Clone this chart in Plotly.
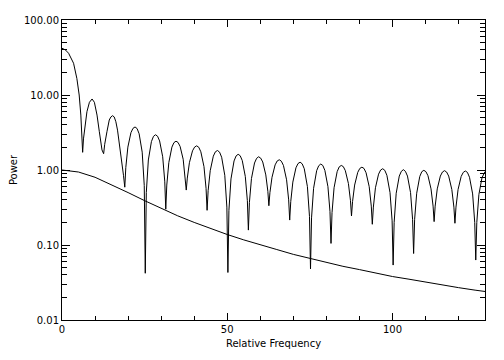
import plotly.graph_objects as go

# Upper curve: power spectrum
spec_x = [0, 1.0, 2.0, 3.5, 4.5, 5.2, 5.7, 6.0, 6.25,
          6.5, 6.85, 7.55, 8.3, 9.1, 9.8, 10.6, 11.3, 11.8, 12.1, 12.6,
          12.92, 13.6, 14.3, 14.8, 15.3, 15.8, 16.3, 16.8, 17.3, 17.7, 18.1, 18.6, 19.0,
          19.31, 19.93, 20.86, 21.48, 22.1, 22.72, 23.34, 24.27, 24.89, 25.2,
          25.51, 26.13, 27.06, 27.68, 28.3, 28.92, 29.54, 30.47, 31.09, 31.4,
          31.71, 32.33, 33.26, 33.88, 34.5, 35.12, 35.74, 36.67, 37.29, 37.6,
          37.92, 38.55, 39.49, 40.12, 40.75, 41.38, 42.01, 42.96, 43.59, 43.9,
          44.22, 44.85, 45.79, 46.42, 47.05, 47.68, 48.31, 49.26, 49.89, 50.2,
          50.51, 51.13, 52.06, 52.68, 53.3, 53.92, 54.54, 55.47, 56.09, 56.4,
          56.71, 57.33, 58.26, 58.88, 59.5, 60.12, 60.74, 61.67, 62.29, 62.6,
          62.92, 63.55, 64.49, 65.12, 65.75, 66.38, 67.01, 67.96, 68.59, 68.9,
          69.22, 69.85, 70.79, 71.42, 72.05, 72.68, 73.31, 74.26, 74.89, 75.2,
          75.51, 76.13, 77.06, 77.68, 78.3, 78.92, 79.54, 80.47, 81.09, 81.4,
          81.71, 82.33, 83.26, 83.88, 84.5, 85.12, 85.74, 86.67, 87.29, 87.6,
          87.92, 88.55, 89.49, 90.12, 90.75, 91.38, 92.01, 92.96, 93.59, 93.9,
          94.22, 94.85, 95.79, 96.42, 97.05, 97.68, 98.31, 99.26, 99.89, 100.2,
          100.51, 101.13, 102.06, 102.68, 103.3, 103.92, 104.54, 105.47, 106.09, 106.4,
          106.71, 107.33, 108.26, 108.88, 109.5, 110.12, 110.74, 111.67, 112.29, 112.6,
          112.92, 113.55, 114.49, 115.12, 115.75, 116.38, 117.01, 117.96, 118.59, 118.9,
          119.22, 119.85, 120.79, 121.42, 122.05, 122.68, 123.31, 124.26, 124.89, 125.2,
          125.52, 126.15, 127.09, 127.72, 128.0]
spec_y = [42, 40, 36, 26.5, 16.6, 10, 5.4, 3.2, 1.72,
          2.6, 3.6, 6.0, 8.0, 8.85, 8.0, 5.4, 3.24, 2.2, 1.85, 1.65,
          2.2, 3.24, 4.64, 5.1, 5.3, 5.1, 4.4, 3.4, 2.39, 1.75, 1.29, 0.85, 0.59,
          1.08, 2.02, 3.15, 3.59, 3.75, 3.57, 3.04, 1.73, 0.62, 0.042,
          0.50, 1.36, 2.39, 2.81, 2.95, 2.82, 2.44, 1.5, 0.71, 0.30,
          0.63, 1.26, 2.02, 2.32, 2.42, 2.33, 2.06, 1.39, 0.83, 0.54,
          0.78, 1.25, 1.80, 2.02, 2.1, 2.01, 1.75, 1.11, 0.57, 0.29,
          0.53, 0.98, 1.53, 1.75, 1.82, 1.73, 1.48, 0.85, 0.32, 0.043,
          0.29, 0.76, 1.32, 1.54, 1.62, 1.55, 1.34, 0.82, 0.39, 0.158,
          0.37, 0.77, 1.24, 1.43, 1.5, 1.44, 1.28, 0.86, 0.52, 0.334,
          0.50, 0.80, 1.17, 1.32, 1.37, 1.31, 1.15, 0.74, 0.40, 0.215,
          0.38, 0.69, 1.07, 1.22, 1.27, 1.21, 1.04, 0.60, 0.24, 0.048,
          0.23, 0.57, 0.98, 1.14, 1.2, 1.15, 0.99, 0.60, 0.28, 0.105,
          0.27, 0.58, 0.95, 1.10, 1.15, 1.11, 0.98, 0.66, 0.39, 0.244,
          0.38, 0.63, 0.93, 1.05, 1.09, 1.05, 0.92, 0.60, 0.33, 0.189,
          0.32, 0.58, 0.88, 1.0, 1.04, 0.99, 0.85, 0.50, 0.21, 0.054,
          0.20, 0.49, 0.83, 0.96, 1.01, 0.96, 0.83, 0.50, 0.22, 0.077,
          0.22, 0.49, 0.82, 0.95, 0.99, 0.95, 0.84, 0.56, 0.33, 0.205,
          0.33, 0.56, 0.83, 0.94, 0.98, 0.94, 0.83, 0.55, 0.32, 0.195,
          0.32, 0.55, 0.82, 0.93, 0.97, 0.93, 0.80, 0.48, 0.20, 0.063,
          0.20, 0.47, 0.79, 0.92, 0.95]

# Lower smooth curve
smooth_x = [0, 5, 10, 15, 20, 25, 30, 35, 40, 45, 50, 55, 60, 65, 70, 75,
            80, 85, 90, 95, 100, 105, 110, 115, 120, 125, 128]
smooth_y = [1.0, 0.94, 0.80, 0.64, 0.50, 0.39, 0.31, 0.245, 0.20, 0.165, 0.138,
            0.117, 0.10, 0.087, 0.075, 0.066, 0.059, 0.052, 0.047, 0.042, 0.038,
            0.035, 0.032, 0.029, 0.027, 0.025, 0.024]

y_tickvals = [0.01, 0.1, 1, 10, 100]
y_ticktext = ["0.01", "0.10", "1.00", "10.00", "100.00"]
x_tickvals = [0, 50, 100]
x_ticktext = ["0", "50", "100"]

font = dict(family="DejaVu Sans", size=10, color="black")

fig = go.Figure()
fig.add_trace(go.Scatter(x=spec_x, y=spec_y, mode="lines",
                         line=dict(color="black", width=1), showlegend=False))
fig.add_trace(go.Scatter(x=smooth_x, y=smooth_y, mode="lines",
                         line=dict(color="black", width=1), showlegend=False))

y_minor = []
for d in [0.01, 0.1, 1, 10]:
    for k in range(2, 10):
        y_minor.append(d * k)

fig.update_layout(
    width=496, height=352,
    margin=dict(l=54, r=19, t=12, b=40),
    paper_bgcolor="white", plot_bgcolor="white",
    font=font,
    xaxis=dict(range=[0, 128], showgrid=False, zeroline=False, automargin=False,
               showline=True, linecolor="black", linewidth=1, mirror="ticks",
               ticks="inside", ticklen=7, tickcolor="black", tickwidth=1,
               tickvals=x_tickvals, ticktext=x_ticktext,
               minor=dict(ticks="inside", ticklen=4, dtick=10, tick0=0,
                          tickcolor="black", showgrid=False),
               title=dict(text="Relative Frequency", standoff=5, font=font)),
    yaxis=dict(type="log", range=[-2, 2], showgrid=False, zeroline=False, automargin=False,
               showline=True, linecolor="black", linewidth=1, mirror="ticks",
               ticks="inside", ticklen=8, tickcolor="black", tickwidth=1,
               tickvals=y_tickvals, ticktext=y_ticktext,
               minor=dict(ticks="inside", ticklen=5, tickvals=y_minor,
                          tickcolor="black", showgrid=False),
               title=dict(text="Power", standoff=13, font=font)),
)

fig.write_html("out.html")
